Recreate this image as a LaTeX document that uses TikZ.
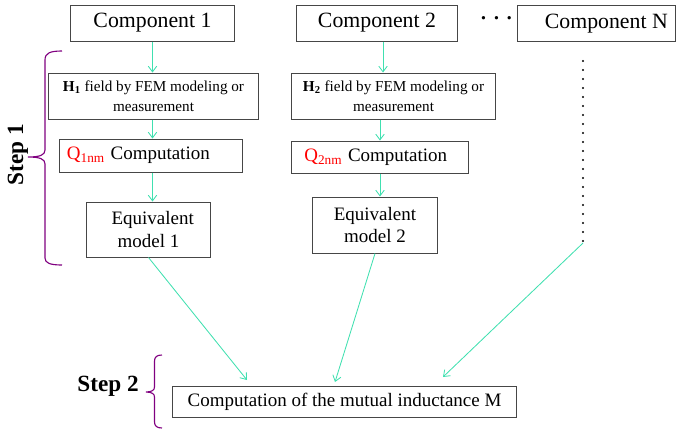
\documentclass[tikz,border=0pt]{standalone}
\usepackage{fontspec}
\setmainfont{Liberation Serif}
\usetikzlibrary{arrows.meta}
\definecolor{flow}{RGB}{64,224,176}
\definecolor{bracec}{RGB}{128,0,128}
\definecolor{framec}{RGB}{70,70,70}
\begin{document}
\begin{tikzpicture}[x=0.025cm,y=-0.025cm]
\tikzstyle{box}=[draw=framec,line width=0.7pt,inner sep=1pt,align=center]
\tikzstyle{big}=[box,font=\fontsize{15.5}{18}\selectfont]
\tikzstyle{mid}=[box,font=\fontsize{13.5}{16}\selectfont]
\tikzstyle{small}=[box,font=\fontsize{10.8}{14}\selectfont]
\tikzstyle{flowarrow}=[draw=flow,line width=0.6pt,-{Straight Barb[length=4pt,width=6pt]}]
\tikzstyle{stepbrace}=[draw=bracec,line width=0.8pt]
\tikzstyle{steplabel}=[font=\fontsize{16.5}{18}\selectfont\bfseries]
\useasboundingbox (0,0) rectangle (676,430);
% components
\node[big,minimum width=4.075cm,minimum height=0.9cm] (comp1) at (152.5,23) {Component 1};
\node[big,minimum width=4.0cm,minimum height=0.9cm] (comp2) at (377,23) {Component 2};
\node[big,minimum width=3.925cm,minimum height=0.9cm] (compN) at (596.5,23.5) {\hspace{14pt}Component N};
\node[font=\fontsize{20}{20}\selectfont,inner sep=0pt] (dots) at (496.5,22.5) {·\hspace{2.5pt}·\hspace{2.5pt}·};
% first chain
\node[small,minimum width=5.225cm,minimum height=1.15cm] (h1) at (153.5,96) {\textbf{H\textsubscript{1}} field by FEM modeling or\\measurement};
\node[mid,minimum width=4.55cm,minimum height=0.825cm] (q1) at (151,155.5) {\textcolor{red}{Q\textsubscript{1nm}}\hspace{4pt}Computation\hspace{18pt}};
\node[mid,minimum width=3.075cm,minimum height=1.375cm] (eq1) at (148.5,229.5) {\hspace{6pt}Equivalent\\model 1};
% second chain
\node[small,minimum width=5.075cm,minimum height=1.15cm] (h2) at (393.5,96) {\textbf{H\textsubscript{2}} field by FEM modeling or\\measurement};
\node[mid,minimum width=4.4cm,minimum height=0.8cm] (q2) at (380,157) {\textcolor{red}{Q\textsubscript{2nm}}\hspace{4pt}Computation\hspace{6pt}};
\node[mid,minimum width=3.1cm,minimum height=1.4cm] (eq2) at (375,225) {Equivalent\\model 2};
% final step
\node[mid,minimum width=8.575cm,minimum height=0.775cm] (mut) at (344.5,401.5) {Computation of the mutual inductance M};
\coordinate (dtop) at (583,61);
\coordinate (dbot) at (583,243);
\coordinate (in1) at (247,380);
\coordinate (in2) at (335,382);
\coordinate (in3) at (443,377);
\draw[flowarrow] (comp1.south) -- (comp1.south |- h1.north);
\draw[flowarrow] (comp1.south |- h1.south) -- (comp1.south |- q1.north);
\draw[flowarrow] (comp1.south |- q1.south) -- (comp1.south |- eq1.north);
\draw[flowarrow] ([xshift=0.15cm]comp2.south) -- ([xshift=0.15cm]comp2.south |- h2.north);
\draw[flowarrow] (q2.north |- h2.south) -- (q2.north);
\draw[flowarrow] (q2.south) -- (q2.south |- eq2.north);
\draw[line width=1.5pt,line cap=round,dash pattern=on 0pt off 6.4pt] (dtop) -- (dbot);
\draw[flowarrow] (eq1.south) -- (in1);
\draw[flowarrow] (eq2.south) -- (in2);
\draw[flowarrow] (dbot) -- (in3);
% braces
\draw[stepbrace] (62,51) .. controls (50,51) and (45,53) .. (45,60) -- (45,150)
  .. controls (45,155) and (40,157) .. (28,157)
  .. controls (40,157) and (45,159) .. (45,164) -- (45,258)
  .. controls (45,263) and (50,265) .. (62,265);
\draw[stepbrace] (162,355) .. controls (157,355) and (154.5,357) .. (154.5,361) -- (154.5,387)
  .. controls (154.5,390) and (152,392) .. (146,392)
  .. controls (152,392) and (154.5,394) .. (154.5,397) -- (154.5,422)
  .. controls (154.5,426) and (157,428) .. (162,428);
\node[steplabel,rotate=90] (step1) at (18,155) {Step 1};
\node[steplabel] (step2) at (108,386) {Step 2};
\end{tikzpicture}
\end{document}
